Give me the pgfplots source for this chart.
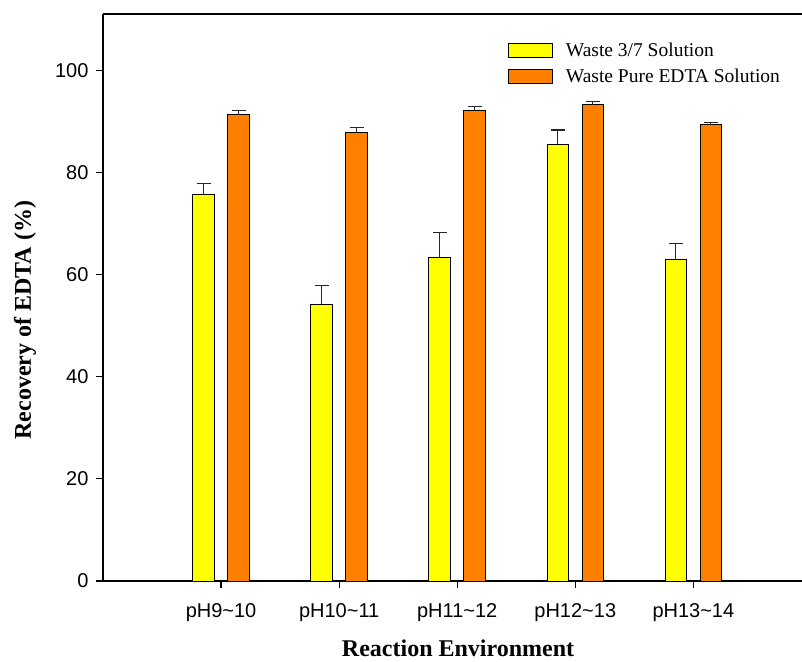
\documentclass[border=0pt]{standalone}
\usepackage{fontspec}
\setmainfont{Liberation Serif}
\setsansfont{Liberation Sans}
\usepackage{pgfplots}
\pgfplotsset{compat=1.18}
\usetikzlibrary{calc}
\definecolor{yel}{RGB}{255,255,0}
\definecolor{org}{RGB}{255,128,0}
\begin{document}
\begin{tikzpicture}
\begin{axis}[name=ax, scale only axis, width=699pt, height=567pt,
  xmin=0, xmax=5.92, ymin=0, ymax=111,
  axis lines*=left, axis line style={line width=1.2pt, black},
  clip=false,
  ybar, bar width=21.5pt,
  xtick={1,2,3,4,5},
  xticklabels={pH9\textasciitilde10, pH10\textasciitilde11, pH11\textasciitilde12, pH12\textasciitilde13, pH13\textasciitilde14},
  ytick={0,20,40,60,80,100},
  tick align=outside, major tick length=7pt,
  tick style={line width=1.2pt, black},
  /pgf/number format/assume math mode=true,
  ticklabel style={font=\fontsize{20}{24}\sffamily},
  xticklabel style={yshift=-12pt},
  yticklabel style={xshift=-4pt},
  xlabel={Reaction Environment},
  ylabel={Recovery of EDTA (\%)},
  xlabel style={font=\fontsize{24}{28}\selectfont\bfseries, at={(axis description cs:0.508,-0.134)}, anchor=base},
  ylabel style={font=\fontsize{24}{28}\selectfont\bfseries, at={(axis description cs:-0.1116,0.46)}, anchor=center, rotate=0},
  legend image code/.code={\draw[#1, line width=1pt] (0pt,-7pt) rectangle (44pt,7pt);},
  legend style={draw=none, fill=none, inner sep=0pt, font=\fontsize{19.5}{23}\selectfont,
     at={(rel axis cs:0.579,0.949)}, anchor=north west, row sep=11pt,
     nodes={inner sep=0pt}, /tikz/every even column/.append style={column sep=0pt}},
  legend cell align=left,
]
\addplot[fill=yel, draw=black, line width=1pt, bar shift=-17.5pt,
  error bars/.cd, y dir=plus, y explicit,
  error bar style={line width=1.2pt, black!85},
  error mark options={rotate=90, mark size=7pt, line width=1.2pt, black!85}]
coordinates {
(1,75.6) +- (0,2.2)
(2,54.2) +- (0,3.7)
(3,63.4) +- (0,4.9)
(4,85.5) +- (0,2.8)
(5,63.0) +- (0,3.0)
};
\addlegendentry{\hspace{13pt}Waste 3/7 Solution}
\addplot[fill=org, draw=black, line width=1pt, bar shift=17.5pt,
  error bars/.cd, y dir=plus, y explicit,
  error bar style={line width=1.2pt, black!85},
  error mark options={rotate=90, mark size=7pt, line width=1.2pt, black!85}]
coordinates {
(1,91.3) +- (0,0.8)
(2,87.8) +- (0,1.0)
(3,92.1) +- (0,0.8)
(4,93.2) +- (0,0.6)
(5,89.3) +- (0,0.4)
};
\addlegendentry{\hspace{13pt}Waste Pure EDTA Solution}
\draw[line width=1.2pt, black] (rel axis cs:0,1) -- (rel axis cs:1,1);
\end{axis}
\pgfresetboundingbox
\path ($(ax.south west)+(-103pt,-80pt)$) rectangle ($(ax.north east)+(0pt,14pt)$);
\end{tikzpicture}
\end{document}
